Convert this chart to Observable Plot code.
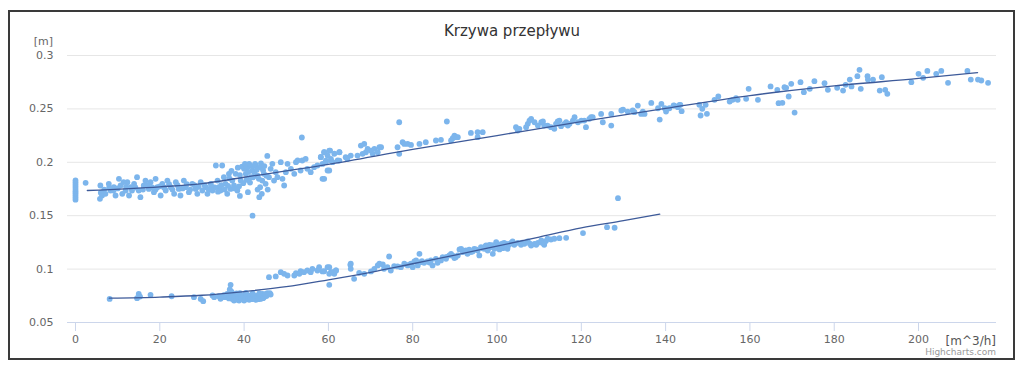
<!DOCTYPE html>
<html>
<head>
<meta charset="utf-8">
<script src="https://cdn.jsdelivr.net/npm/d3@7"></script>
<script src="https://cdn.jsdelivr.net/npm/@observablehq/plot@0.6"></script>
<style>
  html, body { margin: 0; padding: 0; background: #fff; }
  #wrap { position: relative; width: 1024px; height: 372px; overflow: hidden; font-family: "DejaVu Sans", Verdana, sans-serif; }
  #chart { position: absolute; left: 0; top: 0; }
  #frame { position: absolute; left: 8px; top: 10px; width: 1003px; height: 346px; border: 2px solid #3a3a3a; pointer-events: none; }
  #title { position: absolute; left: 0; width: 1024px; top: 22px; text-align: center; font-size: 15px; color: #333; }
  #ylab { position: absolute; right: calc(1024px - 53px); top: 36px; font-size: 11px; line-height: 12px; color: #666; }
  #xlab { position: absolute; right: calc(1024px - 996px); top: 334px; font-size: 12px; color: #555; }
  #credit { position: absolute; right: calc(1024px - 996px); top: 347px; font-size: 9px; color: #999; }
</style>
</head>
<body>
<div id="wrap">
  <div id="chart"></div>
  <div id="title">Krzywa przepływu</div>
  <div id="ylab">[m]</div>
  <div id="xlab">[m^3/h]</div>
  <div id="credit">Highcharts.com</div>
  <div id="frame"></div>
</div>
<script>
const chartTitle = "Krzywa przepływu";
const xTicks = [0, 20, 40, 60, 80, 100, 120, 140, 160, 180, 200];
const yTicks = [0.05, 0.1, 0.15, 0.2, 0.25, 0.3];

// upper series measurements [flow m^3/h, level m]
const upperPoints = [
  [0,0.165],[0,0.167],[0,0.169],[0,0.171],[0,0.173],[0,0.175],[0,0.177],[0,0.179],[0,0.181],[0,0.183],
  [2.4,0.1808],
  [5.9,0.1783],[6.3,0.1689],[5.8,0.1658],[7.1,0.1705],[7.9,0.1798],[8.3,0.1736],[9.1,0.1767],[9.5,0.1689],
  [10.3,0.1845],[10.7,0.1783],[11.1,0.1705],[11.9,0.1736],[12.3,0.1814],[12.7,0.1689],[13.1,0.1767],[13.9,0.1798],
  [14.6,0.1861],[15.0,0.1736],[15.4,0.1673],[16.2,0.1783],[16.6,0.1829],[17.4,0.1751],[17.8,0.1814],[18.6,0.172],
  [19.0,0.1845],[19.4,0.1767],[20.2,0.1689],[20.6,0.1798],[21.4,0.1736],[21.8,0.1829],[22.6,0.1767],[23.4,0.1705],
  [23.8,0.1814],[24.5,0.1751],[24.9,0.1689],[25.7,0.1829],[26.1,0.1767],[26.9,0.172],[27.7,0.1798],[28.5,0.1751],
  [28.9,0.1705],[29.7,0.1814],[30.1,0.1736],[30.9,0.1767],[31.3,0.1705],[32.1,0.1798],[32.5,0.1736],[33.3,0.197],
  [33.7,0.1829],[34.0,0.1767],[34.4,0.1736],[34.8,0.197],[35.2,0.1861],[35.6,0.1798],[36.0,0.1705],[36.4,0.1892],
  [36.8,0.1751],[37.2,0.1829],[37.6,0.1783],[38.0,0.1892],[38.4,0.1736],[39.2,0.1829],[40.0,0.1939],[40.4,0.1892],
  [40.8,0.1954],[40.9,0.172],[41.2,0.1986],[41.6,0.1861],[42.0,0.1923],[42.4,0.1908],[42.8,0.197],[43.2,0.1876],
  [43.6,0.1673],[43.8,0.1767],[43.9,0.1954],[44.3,0.1829],[44.7,0.1892],[45.1,0.1798],[45.5,0.206],[45.9,0.1861],
  [46.3,0.1939],[46.7,0.1986],[47.1,0.1829],[47.5,0.1908],[47.9,0.1861],[48.7,0.2001],[49.1,0.1845],[49.5,0.1783],
  [49.9,0.1908],[50.3,0.1986],[51.1,0.1939],[51.9,0.1892],[52.3,0.2001],[52.7,0.2017],[53.4,0.1923],[53.8,0.2017],
  [54.6,0.2032],[55.0,0.1939],[55.8,0.1908],[56.6,0.1954],[57.4,0.197],[58.2,0.205],[58.6,0.1845],[59.0,0.2095],
  [59.4,0.2001],[59.8,0.1923],[60.2,0.211],[60.6,0.2032],[61.4,0.208],[62.2,0.2017],[62.6,0.2095],
  [42.0,0.150],[53.7,0.2232],
  [36.5,0.185],[37,0.192],[38.5,0.195],[39,0.188],[39.5,0.196],[40.2,0.1985],[41,0.191],[41.8,0.1965],[42.6,0.1985],
  [43,0.193],[43.5,0.1845],[44,0.199],[44.8,0.1965],[45.3,0.1875],[42.2,0.186],[41.4,0.181],[40.6,0.1835],[39.8,0.1805],
  [38.8,0.1775],[37.8,0.1755],[36.2,0.178],[35.4,0.1745],[34.6,0.1785],[33.8,0.1725],[33,0.1765],[32.2,0.1775],
  [31.6,0.1745],[30.6,0.1785],[29.2,0.177],[28.2,0.1785],[27.2,0.1745],[26.4,0.1795],[25.4,0.1755],[24.2,0.1785],
  [23,0.1745],[22.2,0.1795],[21,0.1765],[20,0.1775],[19,0.1745],[18.2,0.1765],[17,0.1785],[16,0.1745],[14.2,0.1765],
  [13.4,0.1735],[12,0.177],[11.4,0.1815],[10,0.1755],[9,0.1735],[8,0.1765],[6.8,0.1745],[6,0.1715],[44.2,0.1705],
  [43.2,0.1745],[45.6,0.1745],[44.5,0.1925],[39,0.1685],
  [58.2,0.2048],[58.6,0.1985],[59.0,0.2094],[59.4,0.2016],[59.8,0.2063],[60.2,0.1923],[60.4,0.211],[60.6,0.2016],
  [59.0,0.1845],[61.0,0.2001],[62.6,0.2094],[62.6,0.2016],[64.1,0.2048],[64.5,0.2032],[65.3,0.2063],[66.9,0.2063],
  [67.7,0.2157],[68.1,0.2079],[68.5,0.2172],[68.9,0.2094],[69.3,0.2126],[70.1,0.211],[70.5,0.2079],[70.9,0.2126],
  [71.7,0.2094],[72.1,0.2141],[72.5,0.2141],[76.4,0.2141],[76.8,0.2079],[76.8,0.2375],[77.6,0.2188],[78.0,0.2172],
  [78.8,0.2172],[79.6,0.2163],[81.6,0.2172],[83.1,0.2188],[85.5,0.2204],[86.7,0.221],[88.1,0.2382],[89.1,0.2204],
  [89.5,0.2225],[89.9,0.225],[90.3,0.2235],[90.7,0.2235],[93.8,0.2275],[95.4,0.2235],[95.4,0.2282],[96.6,0.2282],
  [104.5,0.2329],[104.9,0.2297],[105.3,0.2313],[106.9,0.2329],[107.3,0.236],[107.7,0.2391],[108.1,0.2407],[108.9,0.2375],
  [109.7,0.2344],[110.5,0.2375],[110.9,0.2382],[111.2,0.2344],[112.0,0.2344],[112.8,0.2329],[113.6,0.2313],[114.0,0.236],
  [114.4,0.2382],[114.8,0.2391],[115.2,0.2338],[116.0,0.236],[116.4,0.2375],[116.8,0.2344],[117.2,0.236],[118.0,0.2391],
  [118.4,0.2422],[119.2,0.2375],[120.0,0.2391],[120.7,0.2391],[121.1,0.2329],[121.9,0.2407],[122.3,0.2422],[122.7,0.2422],
  [124.7,0.2453],[125.1,0.2375],[127.1,0.2453],[127.1,0.2344],[129.5,0.2485],[129.9,0.2494],[131.0,0.2475],[132.2,0.2485],
  [132.6,0.2469],[133.4,0.2531],[134.2,0.2453],[134.6,0.2475],[135.0,0.2453],[136.6,0.2556],[138.2,0.2506],[138.6,0.24],
  [139.0,0.2547],[139.8,0.2506],[140.1,0.2475],[140.9,0.2506],[142.1,0.2531],[143.3,0.2538],
  [141.9,0.2532],[142.9,0.2516],[143.5,0.2538],[143.8,0.2479],[148.0,0.2538],[148.3,0.2438],[148.7,0.2501],[149.5,0.2538],
  [149.8,0.2454],[151.6,0.2585],[152.5,0.2616],[155.2,0.2569],[155.9,0.2585],[156.7,0.26],[157.1,0.2585],[159.1,0.2594],
  [159.7,0.2688],[161.9,0.2585],[164.9,0.271],[166.5,0.2679],[166.8,0.2554],[167.7,0.2557],[168.2,0.2703],[168.6,0.2697],
  [169.2,0.2616],[169.8,0.2735],[170.6,0.2466],[172.0,0.275],[172.8,0.2657],[174.2,0.2688],[175.3,0.276],[177.7,0.2741],
  [178.5,0.2679],[180.7,0.2697],[182.1,0.2672],[182.7,0.2725],[183.7,0.2775],[184.1,0.271],[185.5,0.2806],[186.0,0.2866],
  [186.3,0.2688],[187.9,0.2806],[188.0,0.2775],[189.2,0.2775],[190.8,0.2672],[191.3,0.2797],[192.1,0.2679],[192.6,0.2641],
  [198.3,0.275],[200.0,0.2828],[201.1,0.2791],[202.1,0.2856],[204.2,0.2828],[205.4,0.2856],[207.0,0.2744],[211.6,0.2856],
  [212.4,0.2775],[214.1,0.2775],[214.9,0.2766],[216.5,0.2744]
];

// lower series measurements [flow m^3/h, level m]
const lowerPoints = [
  [8.1,0.0721],[14.6,0.0728],[15.0,0.0768],[15.3,0.0743],[17.8,0.0759],[22.8,0.0746],[28.1,0.0737],[29.7,0.0721],
  [30.3,0.07],[32.5,0.0753],[32.9,0.0737],[34.0,0.0746],[34.8,0.0737],[35.6,0.0737],[36.0,0.0768],[36.8,0.0853],
  [36.8,0.0784],[37.2,0.0721],[37.6,0.0706],[38.0,0.0737],[38.4,0.0753],[38.8,0.0706],[39.2,0.0721],[39.6,0.0737],
  [40.0,0.0706],[40.4,0.0721],[40.8,0.0737],[41.2,0.0712],[41.6,0.0753],[42.0,0.0721],[42.4,0.0743],[42.8,0.0712],
  [43.2,0.0737],[43.5,0.0753],[43.9,0.0721],[44.3,0.0768],[44.7,0.0737],[45.1,0.0753],[45.5,0.0774],[45.9,0.0924],
  [46.3,0.0762],[47.5,0.0931],[48.7,0.0971],[49.5,0.0956],[50.3,0.094],[51.9,0.094],[52.3,0.0962],[53.1,0.0956],
  [53.4,0.098],[54.2,0.0971],[55.0,0.0987],[55.8,0.0971],[56.2,0.1002],[57.4,0.0987],[57.8,0.1018],[59.0,0.098],
  [60.2,0.1018],[60.2,0.0853],[60.6,0.0971],[61.4,0.0956],[61.8,0.0987],[65.2,0.104],
  [36.4,0.0725],[37.0,0.0745],[37.4,0.0765],[37.8,0.0728],[38.2,0.0715],[38.6,0.074],[39.0,0.0758],[39.4,0.0728],
  [39.8,0.0748],[40.2,0.0715],[40.6,0.0762],[41.0,0.0728],[41.4,0.0742],[41.8,0.0718],[42.2,0.0758],[42.6,0.0728],
  [43.0,0.0748],[43.4,0.0718],[43.8,0.0742],[44.0,0.0755],[44.5,0.0728],[44.9,0.0765],[45.3,0.0748],[45.7,0.0765],
  [46.1,0.0775],[37.0,0.079],[36.6,0.081],[38.2,0.0772],[39.0,0.0775],[40.4,0.0778],[42.0,0.0772],[43.6,0.0772],
  [35.2,0.0755],[34.4,0.0722],
  [58.6,0.0978],[59.8,0.1018],[60.2,0.0956],[61.0,0.0972],[61.8,0.0987],[65.3,0.105],[65.3,0.1003],[66.1,0.0909],
  [67.3,0.0965],[68.5,0.0956],[70.1,0.0978],[70.9,0.1003],[71.7,0.1034],[72.1,0.105],[72.9,0.1043],[73.2,0.1003],
  [74.0,0.1018],[74.4,0.1118],[74.8,0.0987],[75.6,0.1028],[77.2,0.1018],[78.0,0.105],[78.8,0.1034],[79.6,0.105],
  [80.0,0.1018],[80.4,0.1071],[80.8,0.1081],[81.2,0.1034],[81.6,0.1143],[81.9,0.1065],[82.7,0.1059],[83.5,0.1071],
  [84.3,0.1081],[84.7,0.1034],[85.5,0.1096],[85.9,0.1059],[86.7,0.1081],[87.1,0.1112],[87.9,0.1096],[88.7,0.1128],
  [89.1,0.1143],[89.9,0.1103],[90.7,0.1128],[91.1,0.1184],[91.5,0.119],[91.9,0.1159],[92.6,0.1174],[93.0,0.1143],
  [93.8,0.1159],[94.6,0.119],[95.4,0.1174],[95.8,0.1128],[96.2,0.1206],[97.0,0.119],[97.4,0.1221],[97.8,0.1174],
  [98.2,0.1227],[98.6,0.1206],[99.0,0.1143],[99.4,0.119],[99.8,0.1252],[100.2,0.1215],[100.6,0.1184],[101.0,0.1227],
  [101.4,0.1196],[101.7,0.1246],[102.1,0.1215],[102.5,0.119],[103.7,0.1259],[104.1,0.1227],[104.9,0.1246],[105.7,0.1227],
  [106.5,0.1237],[107.3,0.1259],[108.1,0.1221],[108.9,0.1237],[109.7,0.1246],[110.5,0.1268],[111.2,0.1227],[112.0,0.1284],
  [112.8,0.1277],[113.6,0.1284],[114.8,0.129],[116.4,0.1293],[120.4,0.1337],[126.1,0.1393],[127.9,0.1387],[128.7,0.1664],
  [96.6,0.1195],[97.2,0.1212],[98.0,0.1198],[98.8,0.1225],[99.6,0.1205],[100.4,0.1232],[100.8,0.1205],[101.2,0.1238],
  [101.8,0.1222],[102.3,0.1235],[102.8,0.1225],[103.2,0.1242],[88.0,0.1115],[89.5,0.1125],[90.2,0.1112],[92.2,0.1168],
  [93.4,0.1182],[94.2,0.1165],[95.0,0.1185],[84.0,0.1062],[82.2,0.1075],[79.2,0.1042],[76.4,0.1025],[106.0,0.1248],
  [107.8,0.1238],[109.3,0.1228],[110.8,0.1245],[111.6,0.1262]
];

// fitted trend curves
const upperTrendX = [2.8, 20, 30, 40, 60, 80, 100, 120, 140, 160, 180, 200, 214];
const upperTrendY = [0.1736, 0.1770, 0.1800, 0.1860, 0.1980, 0.2120, 0.2250, 0.2380, 0.2505, 0.2625, 0.2715, 0.2785, 0.2840];
const lowerTrendX = [8, 20, 30, 40, 50, 60, 70, 80, 90, 100, 110, 120, 130, 138.6];
const lowerTrendY = [0.0728, 0.0738, 0.0755, 0.0790, 0.0835, 0.0900, 0.0970, 0.1050, 0.1130, 0.1215, 0.1300, 0.1385, 0.1453, 0.1514];

const upperTrend = upperTrendX.map((x, i) => ({x, y: upperTrendY[i]}));
const lowerTrend = lowerTrendX.map((x, i) => ({x, y: lowerTrendY[i]}));
const points = upperPoints.concat(lowerPoints).map(([x, y]) => ({x, y}));

document.getElementById("title").textContent = chartTitle;

const yBase = yTicks[0];

const plot = Plot.plot({
  width: 1024,
  height: 372,
  marginLeft: 67,
  marginRight: 28,
  marginTop: 55,
  marginBottom: 50,
  style: { fontFamily: "DejaVu Sans, Verdana, sans-serif", fontSize: "11px", color: "#666", background: "transparent" },
  x: { type: "linear", domain: [-1.9, 218.5], ticks: xTicks, tickSize: 0, tickPadding: 13, tickFormat: d => String(d), label: null },
  y: { type: "linear", domain: [0.05, 0.3], ticks: yTicks, tickSize: 0, tickPadding: 14, tickFormat: d => String(d), label: null },
  marks: [
    Plot.ruleY(yTicks, { stroke: "#e6e6e6", strokeWidth: 1 }),
    Plot.ruleY([yBase], { stroke: "#ccd6eb", strokeWidth: 1 }),
    Plot.ruleX(xTicks, { x: d => d, y1: () => yBase, y2: () => yBase, insetBottom: -9, stroke: "#ccd6eb", strokeWidth: 1 }),
    Plot.dot(points, { x: "x", y: "y", r: 2.9, fill: "#7cb5ec", stroke: "none" }),
    Plot.line(upperTrend, { x: "x", y: "y", curve: "monotone-x", stroke: "#3d5a99", strokeWidth: 1.3 }),
    Plot.line(lowerTrend, { x: "x", y: "y", curve: "monotone-x", stroke: "#3d5a99", strokeWidth: 1.3 })
  ]
});
document.getElementById("chart").appendChild(plot);
</script>
</body>
</html>
